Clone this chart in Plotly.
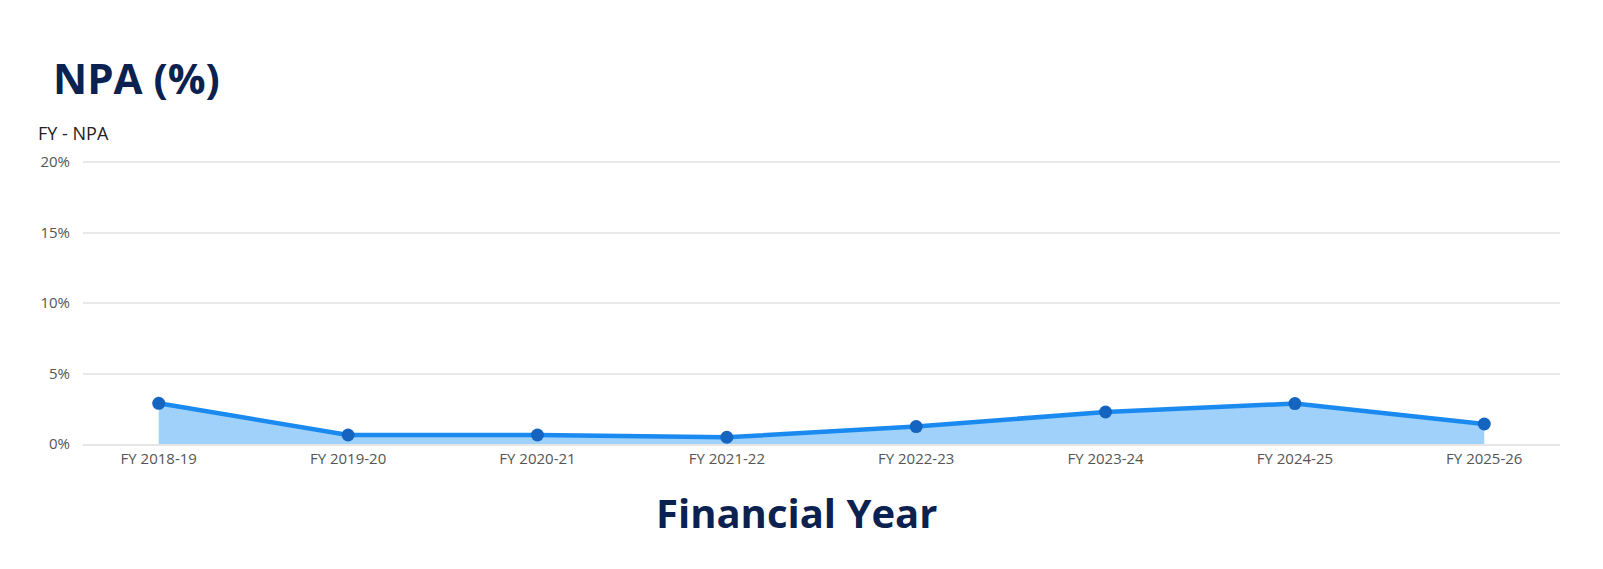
import plotly.graph_objects as go

years = ["FY 2018-19", "FY 2019-20", "FY 2020-21", "FY 2021-22",
         "FY 2022-23", "FY 2023-24", "FY 2024-25", "FY 2025-26"]
npa_pct = [2.89, 0.64, 0.64, 0.48, 1.24, 2.27, 2.87, 1.42]
y_ticks = [0, 5, 10, 15, 20]
y_tick_labels = ["0%", "5%", "10%", "15%", "20%"]

NAVY = "#0b2150"

fig = go.Figure()
fig.add_scatter(
    x=years, y=npa_pct, mode="lines+markers", fill="tozeroy",
    fillcolor="#9fd1fb",
    line=dict(color="#1a8af0", width=4.5),
    marker=dict(color="#1565c0", size=13),
    showlegend=False,
)

# top of range padded a bit so the 20% gridline is not dropped at the edge
fig.update_layout(
    width=1603, height=569,
    paper_bgcolor="white", plot_bgcolor="white",
    margin=dict(l=75, r=51, t=150, b=133),
    font=dict(family="Open Sans, sans-serif", color="#555"),
    xaxis=dict(
        range=[-0.4, 7.4], showgrid=False, zeroline=False,
        showline=True, linecolor="#e6e6e6", linewidth=1.5,
        tickfont=dict(size=15, color="#555"), ticks="",
    ),
    yaxis=dict(
        range=[0, 20.3], tickvals=y_ticks, ticktext=y_tick_labels,
        showgrid=True, gridcolor="#e9e9e9", gridwidth=1.5, zeroline=False,
        tickfont=dict(size=15, color="#555"), ticks="", ticklabelstandoff=12,
    ),
    annotations=[
        dict(text="<b>NPA (%)</b>", xref="paper", yref="paper", x=-0.022, y=1.28,
             xanchor="left", yanchor="middle", showarrow=False,
             font=dict(family="Open Sans, sans-serif", size=42, color=NAVY)),
        dict(text="FY - NPA", xref="paper", yref="paper", x=-0.032, y=1.087,
             xanchor="left", yanchor="middle", showarrow=False,
             font=dict(family="Open Sans, sans-serif", size=18, color="#222")),
        dict(text="<b>Financial Year</b>", xref="paper", yref="paper", x=0.483, y=-0.241,
             xanchor="center", yanchor="middle", showarrow=False,
             font=dict(family="Open Sans, sans-serif", size=40, color=NAVY)),
    ],
)

fig.write_html("out.html")
